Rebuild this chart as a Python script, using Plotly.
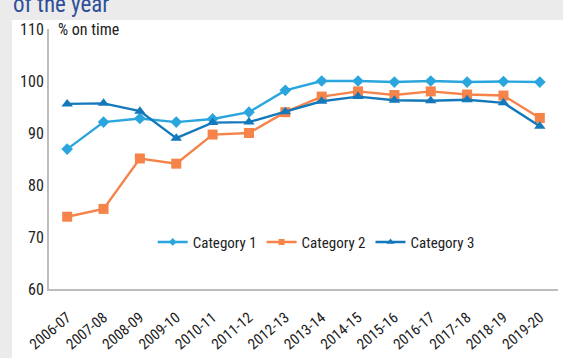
import plotly.graph_objects as go

categories = ["2006-07", "2007-08", "2008-09", "2009-10", "2010-11", "2011-12", "2012-13",
              "2013-14", "2014-15", "2015-16", "2016-17", "2017-18", "2018-19", "2019-20"]
cat1 = [86.9, 92.1, 92.8, 92.1, 92.7, 94.0, 98.2, 100.0, 100.0, 99.8, 100.0, 99.8, 99.9, 99.8]
cat2 = [73.9, 75.4, 85.1, 84.1, 89.7, 90.0, 94.0, 97.0, 98.0, 97.3, 98.0, 97.4, 97.2, 92.9]
cat3 = [95.6, 95.7, 94.2, 89.0, 92.0, 92.1, 94.1, 96.1, 97.0, 96.3, 96.2, 96.4, 95.8, 91.3]
y_ticks = [60, 70, 80, 90, 100, 110]

series = [
    ("Category 1", cat1, "#2aa5de", "diamond", 9, 6),
    ("Category 2", cat2, "#f5834a", "square", 10, 6),
    ("Category 3", cat3, "#1479ba", "triangle-up", 10, 7),
]

FONT = "Liberation Sans Narrow, Roboto Condensed, Roboto, sans-serif"

fig = go.Figure()
for name, vals, color, sym, size, lsize in series:
    fig.add_trace(go.Scatter(x=categories, y=vals, name=name, mode="lines+markers",
                             showlegend=False,
                             line=dict(color=color, width=2.4),
                             marker=dict(symbol=sym, size=size, color=color)))
for name, vals, color, sym, size, lsize in series:
    fig.add_trace(go.Scatter(x=[None], y=[None], name=name, mode="lines+markers",
                             showlegend=True,
                             line=dict(color=color, width=2.4),
                             marker=dict(symbol=sym, size=lsize, color=color)))

fig.update_layout(
    width=563, height=358,
    margin=dict(l=49, r=5, t=29, b=66),
    paper_bgcolor="#ebebeb",
    plot_bgcolor="white",
    font=dict(family=FONT, size=15, color="#222"),
    showlegend=True,
    legend=dict(orientation="h", x=0.525, xanchor="center", y=0.18, yanchor="middle",
                bgcolor="rgba(0,0,0,0)", font=dict(size=15, color="#222"),
                itemwidth=30, tracegroupgap=0),
    xaxis=dict(type="category", range=[-0.5, 13.5], tickangle=-40, showgrid=False,
               showline=True, linecolor="#bdbdbd", linewidth=2, ticks="",
               ticklabelstandoff=12,
               tickfont=dict(size=15, color="#222")),
    yaxis=dict(range=[60, 110], tickvals=y_ticks, showgrid=False, zeroline=False,
               showline=True, linecolor="#bdbdbd", linewidth=2, ticks="",
               tickfont=dict(size=16, color="#222")),
    shapes=[dict(type="rect", xref="paper", yref="paper", x0=-37/509, x1=1.02,
                 y0=-0.3, y1=1 + 9/263, fillcolor="white", line=dict(width=0),
                 layer="below")],
    annotations=[
        dict(text="% on time", xref="paper", yref="paper", x=7/509, y=1.0,
             xanchor="left", yanchor="middle", showarrow=False,
             font=dict(size=16, color="#222")),
        dict(text="of the year", xref="paper", yref="paper", x=-38/509, y=1.034,
             xanchor="left", yanchor="bottom", showarrow=False,
             font=dict(size=23, color="#2f4f9a", family=FONT)),
    ],
)

fig.write_html("out.html")
